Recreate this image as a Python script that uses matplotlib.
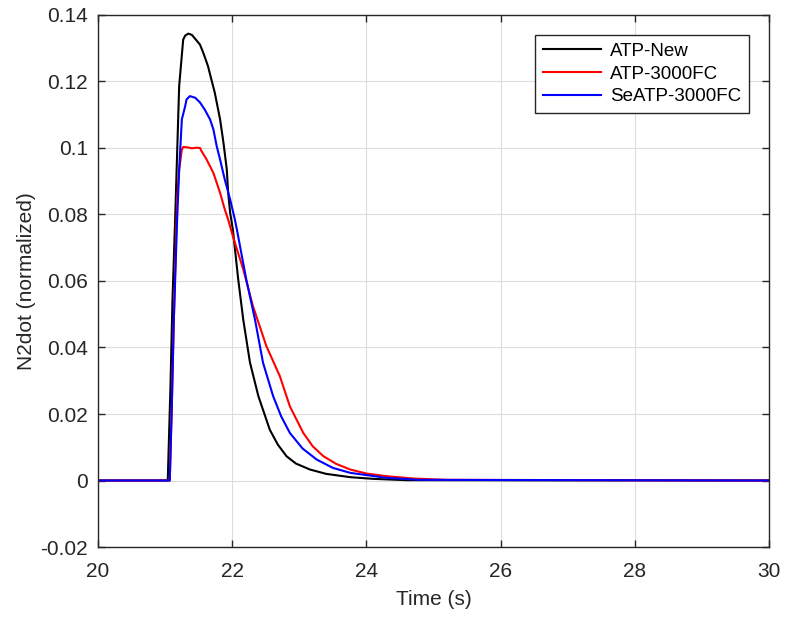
import numpy as np
import matplotlib.pyplot as plt

plt.rcParams['font.family'] = ['Liberation Sans', 'DejaVu Sans']

# ATP-New
t_new = [20.0, 21.04, 21.08, 21.11, 21.15, 21.21, 21.27, 21.30, 21.345, 21.40, 21.45,
         21.52, 21.57, 21.64, 21.69, 21.74, 21.82, 21.87, 21.92, 21.94, 21.97, 22.01,
         22.09, 22.165, 22.265, 22.39, 22.56, 22.68, 22.81, 22.95, 23.16, 23.4, 23.76,
         24.1, 24.6, 30.0]
n_new = [0.0, 0.0, 0.028, 0.054, 0.0785, 0.1186, 0.1326, 0.1338, 0.1344, 0.1340, 0.1328,
         0.1311, 0.1286, 0.1246, 0.1206, 0.1167, 0.1086, 0.1016, 0.0935, 0.0866, 0.0805, 0.0755,
         0.0605, 0.0484, 0.0355, 0.0254, 0.0153, 0.0108, 0.0073, 0.0051, 0.0033, 0.0020, 0.0010,
         0.0005, 0.0001, 0.0]

# ATP-3000FC
t_3000 = [20.0, 21.07, 21.10, 21.13, 21.18, 21.21, 21.25, 21.27, 21.33, 21.40, 21.47,
          21.52, 21.545, 21.62, 21.67, 21.72, 21.82, 21.89, 21.94, 22.01, 22.165, 22.31,
          22.51, 22.71, 22.86, 23.06, 23.2, 23.36, 23.55, 23.76, 24.0, 24.3, 24.7, 25.2, 30.0]
n_3000 = [0.0, 0.0, 0.022, 0.048, 0.0845, 0.0935, 0.0995, 0.1003, 0.1002, 0.0999, 0.1001,
          0.1000, 0.0990, 0.0965, 0.0945, 0.0925, 0.0865, 0.0815, 0.0785, 0.0735, 0.0635, 0.0524,
          0.0404, 0.0314, 0.0223, 0.0143, 0.0103, 0.0073, 0.0050, 0.0033, 0.0021, 0.0013,
          0.0006, 0.0002, 0.0]

# SeATP-3000FC
t_se = [20.0, 21.07, 21.10, 21.13, 21.18, 21.21, 21.25, 21.30, 21.32, 21.37, 21.45,
        21.52, 21.59, 21.67, 21.72, 21.77, 21.82, 21.89, 21.97, 22.04, 22.07, 22.21,
        22.34, 22.46, 22.61, 22.73, 22.86, 23.05, 23.26, 23.5, 23.76, 24.3, 24.8, 30.0]
n_se = [0.0, 0.0, 0.022, 0.048, 0.0785, 0.0935, 0.1086, 0.1126, 0.1146, 0.1156, 0.1151,
        0.1137, 0.1116, 0.1086, 0.1056, 0.1005, 0.0965, 0.0905, 0.0845, 0.0785, 0.0755, 0.0605,
        0.0484, 0.0354, 0.0254, 0.0193, 0.0143, 0.0096, 0.0063, 0.0038, 0.0023, 0.0008,
        0.0002, 0.0]

fig = plt.figure(figsize=(7.85, 6.19), dpi=100)
ax = fig.add_axes([0.1248, 0.1163, 0.8548, 0.8595])

ax.plot(t_new, n_new, color='black', lw=1.5, label='ATP-New')
ax.plot(t_3000, n_3000, color='red', lw=1.5, label='ATP-3000FC')
ax.plot(t_se, n_se, color='blue', lw=1.5, label='SeATP-3000FC')

ax.set_xlim(20, 30)
ax.set_ylim(-0.02, 0.14)
ax.set_xticks(np.arange(20, 31, 2))
yt = np.arange(-0.02, 0.141, 0.02)
ax.set_yticks(yt)
ax.set_yticklabels(['-0.02', '0', '0.02', '0.04', '0.06', '0.08', '0.1', '0.12', '0.14'])
ax.grid(True, color='#dcdcdc', lw=0.8)
ax.set_axisbelow(True)
for s in ax.spines.values():
    s.set_color('#262626')
    s.set_linewidth(1.0)
ax.tick_params(direction='in', top=True, right=True, length=5, width=1.0,
               colors='#262626', labelsize=15)
ax.tick_params(axis='x', pad=11)
ax.tick_params(axis='y', pad=7)
ax.set_xlabel('Time (s)', fontsize=15, color='#262626', labelpad=6)
ax.set_ylabel('N2dot (normalized)', fontsize=15, color='#262626', labelpad=3)

leg = ax.legend(loc='upper right', bbox_to_anchor=(0.970, 0.962), borderaxespad=0,
                fontsize=13.5, fancybox=False, edgecolor='#262626', framealpha=1,
                handlelength=3.1, borderpad=0.4, labelspacing=0.3, handletextpad=0.5)
leg.get_frame().set_linewidth(1.0)

fig.savefig('out.png', dpi=100)
